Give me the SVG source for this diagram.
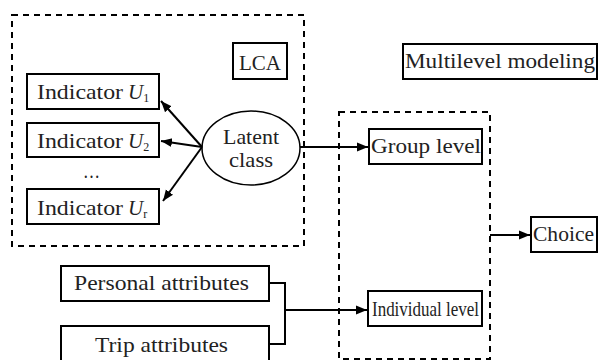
<svg xmlns="http://www.w3.org/2000/svg" width="598" height="360" viewBox="0 0 598 360">
<style>
.box{fill:#fff;stroke:#000;stroke-width:2}
.dash{fill:none;stroke:#000;stroke-width:2;stroke-dasharray:6,5}
text{font-family:'Liberation Serif','Times New Roman',serif;font-size:21px;fill:#222;text-anchor:start}
.c{fill:none;stroke:#000;stroke-width:2}
</style>
<defs>
<marker id="ah" viewBox="0 0 10 10" refX="10" refY="5" markerWidth="5.5" markerHeight="5.5" orient="auto-start-reverse" markerUnits="strokeWidth">
<path d="M0,1 L10,5 L0,9 Z" fill="#000"/>
</marker>
</defs>
<rect width="598" height="360" fill="#fff"/>
<g id="lca-region"><rect class="dash" x="12" y="15" width="292" height="231"/></g>
<g id="ml-region"><rect class="dash" x="339" y="112" width="151" height="247"/></g>
<g id="lca"><rect class="box" x="233" y="43" width="54" height="36"/><text x="239" y="70" textLength="42" lengthAdjust="spacingAndGlyphs">LCA</text></g>
<g id="multilevel"><rect class="box" x="403" y="44" width="194" height="35"/><text x="405" y="68" textLength="190" lengthAdjust="spacingAndGlyphs">Multilevel modeling</text></g>
<g id="u1"><rect class="box" x="27" y="74" width="132" height="35"/><text x="37" y="99"><tspan textLength="86" lengthAdjust="spacingAndGlyphs">Indicator</tspan><tspan x="128" font-style="italic">U</tspan><tspan font-size="12" dy="3">1</tspan></text></g>
<g id="u2"><rect class="box" x="27" y="123" width="132" height="34"/><text x="37" y="148"><tspan textLength="86" lengthAdjust="spacingAndGlyphs">Indicator</tspan><tspan x="128" font-style="italic">U</tspan><tspan font-size="12" dy="3">2</tspan></text></g>
<g id="dots"><text x="83" y="178" textLength="17" lengthAdjust="spacingAndGlyphs">…</text></g>
<g id="ur"><rect class="box" x="27" y="189" width="132" height="35"/><text x="37" y="215"><tspan textLength="86" lengthAdjust="spacingAndGlyphs">Indicator</tspan><tspan x="128" font-style="italic">U</tspan><tspan font-size="12" dy="3">r</tspan></text></g>
<g id="latent"><ellipse cx="251" cy="148" rx="49" ry="37" fill="#fff" stroke="#000" stroke-width="1.5"/><text x="223" y="144" textLength="56" lengthAdjust="spacingAndGlyphs">Latent</text><text x="229" y="167" textLength="44" lengthAdjust="spacingAndGlyphs">class</text></g>
<g id="group"><rect class="box" x="369" y="129" width="113" height="35"/><text x="371" y="153" textLength="110" lengthAdjust="spacingAndGlyphs">Group level</text></g>
<g id="choice"><rect class="box" x="531" y="217" width="66" height="35"/><text x="533" y="241" textLength="61" lengthAdjust="spacingAndGlyphs">Choice</text></g>
<g id="individual"><rect class="box" x="368" y="291" width="114" height="35"/><text x="372" y="316" font-size="19" textLength="107" lengthAdjust="spacingAndGlyphs">Individual level</text></g>
<g id="personal"><rect class="box" x="61" y="266" width="208" height="35"/><text x="74" y="290" textLength="175" lengthAdjust="spacingAndGlyphs">Personal attributes</text></g>
<g id="trip"><rect class="box" x="61" y="326" width="208" height="40"/><text x="95" y="352" textLength="133" lengthAdjust="spacingAndGlyphs">Trip attributes</text></g>
<g id="connectors">
<line class="c" x1="202" y1="147" x2="161" y2="101" marker-end="url(#ah)"/>
<line class="c" x1="202" y1="147" x2="161" y2="141" marker-end="url(#ah)"/>
<line class="c" x1="202" y1="147" x2="163" y2="201" marker-end="url(#ah)"/>
<line class="c" x1="300" y1="147" x2="368" y2="147" marker-end="url(#ah)"/>
<line class="c" x1="490" y1="235" x2="530" y2="235" marker-end="url(#ah)"/>
<polyline class="c" points="269,283 285,283 285,344 269,344"/>
<line class="c" x1="285" y1="310" x2="367" y2="310" marker-end="url(#ah)"/>
</g>
</svg>
